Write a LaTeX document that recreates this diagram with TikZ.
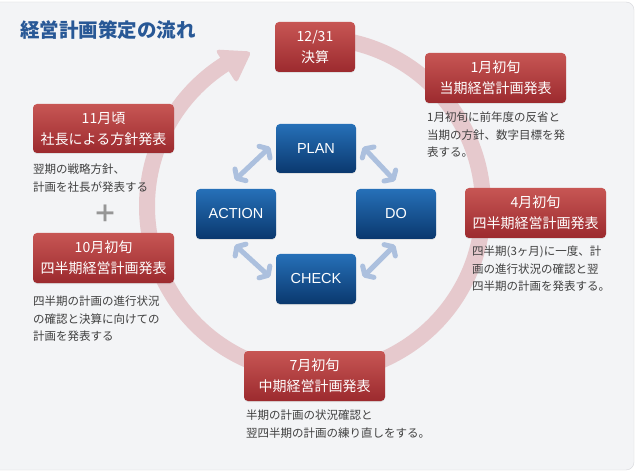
\documentclass[tikz,border=0pt]{standalone}
\usepackage{fontspec}
\newfontfamily\cjk{Noto Sans CJK JP}
\newfontfamily\lat{Liberation Sans}
\usetikzlibrary{arrows.meta,shadows}
\definecolor{rtop}{RGB}{199,86,84}
\definecolor{rbot}{RGB}{156,42,46}
\definecolor{btop}{RGB}{38,112,184}
\definecolor{bbot}{RGB}{10,56,110}
\definecolor{ringcol}{RGB}{230,201,205}
\definecolor{arrcol}{RGB}{172,192,222}
\definecolor{desccol}{RGB}{64,64,64}
\definecolor{titlecol}{RGB}{40,88,150}
\definecolor{panelcol}{RGB}{243,244,246}
\definecolor{panelline}{RGB}{214,215,219}
\definecolor{pluscol}{RGB}{150,150,150}
\begin{document}
\begin{tikzpicture}[x=1pt,y=-1pt,
  redbox/.style={rounded corners=4pt, minimum width=141pt, minimum height=50pt, inner sep=0pt,
    top color=rtop, bottom color=rbot, text=white, align=center,
    font=\cjk\fontsize{14}{21}\selectfont,
    drop shadow={opacity=0.18, shadow xshift=0pt, shadow yshift=-1pt}},
  bluebox/.style={rounded corners=4pt, minimum width=80pt, minimum height=50pt, inner sep=0pt,
    top color=btop, bottom color=bbot, text=white, align=center,
    font=\lat\fontsize{14.5}{17}\selectfont,
    drop shadow={opacity=0.18, shadow xshift=0pt, shadow yshift=-1pt}},
  desc/.style={anchor=north west, inner sep=0pt, align=left, text=desccol,
    font=\cjk\fontsize{11.5}{17.5}\selectfont},
  barrow/.style={draw=arrcol, line width=5pt,
    arrows={Straight Barb[length=5pt,width=16pt,line width=5pt,round]-Straight Barb[length=5pt,width=16pt,line width=5pt,round]}}
]
\useasboundingbox (0,0) rectangle (640,473);
\fill[white] (0,0) rectangle (640,473);
\filldraw[fill=panelcol, draw=panelline, rounded corners=8pt] (-10,2) rectangle (634,470);

% ring with arrow
\draw[ringcol, line width=16pt] (315,206) ++(-85:168) arc[start angle=-85, end angle=238, radius=168];
\fill[ringcol, rounded corners=4pt] (215,49.5) -- (251.5,51.5) -- (236.5,83.5) -- cycle;

% title
\node[anchor=west, inner sep=0pt, text=titlecol, font=\cjk\bfseries\fontsize{19.5}{20}\selectfont] (title) at (20,30) {経営計画策定の流れ};

% red boxes
\node[redbox, minimum width=80pt] (dec) at (315,47) {12/31\\決算};
\node[redbox] (jan) at (495.5,78) {1月初旬\\当期経営計画発表};
\node[redbox, minimum height=49pt] (nov) at (103.5,128.5) {11月頃\\社長による方針発表};
\node[redbox] (oct) at (103.5,258) {10月初旬\\四半期経営計画発表};
\node[redbox] (apr) at (535.5,213) {4月初旬\\四半期経営計画発表};
\node[redbox] (jul) at (314.5,376) {7月初旬\\中期経営計画発表};

% descriptions
\node[desc] (jand) at (427,112) {1月初旬に前年度の反省と\\当期の方針、数字目標を発\\表する。};
\node[desc] (novd) at (33,164) {翌期の戦略方針、\\計画を社長が発表する};
\node[desc] (octd) at (33,296) {四半期の計画の進行状況\\の確認と決算に向けての\\計画を発表する};
\node[desc] (aprd) at (472,246) {四半期(3ヶ月)に一度、計\\画の進行状況の確認と翌\\四半期の計画を発表する。};
\node[desc] (juld) at (246,410) {半期の計画の状況確認と\\翌四半期の計画の練り直しをする。};

% plus
\node[inner sep=0pt, text=pluscol, font=\cjk\bfseries\fontsize{24}{24}\selectfont] (plus) at (105.5,213.5) {＋};

% PDCA boxes
\node[bluebox, minimum height=49pt] (plan) at (316,148.5) {PLAN};
\node[bluebox] (action) at (236,214) {ACTION};
\node[bluebox] (do) at (396,214) {DO};
\node[bluebox] (check) at (316,279) {CHECK};

% arrows
\coordinate (ap1) at (235,180); \coordinate (ap2) at (270,147);
\coordinate (pd1) at (363,147); \coordinate (pd2) at (395,181);
\coordinate (ac1) at (235,245); \coordinate (ac2) at (270,277);
\coordinate (cd1) at (363,277); \coordinate (cd2) at (395,245);
\draw[barrow] (ap1) -- (ap2);
\draw[barrow] (pd1) -- (pd2);
\draw[barrow] (ac1) -- (ac2);
\draw[barrow] (cd1) -- (cd2);
\end{tikzpicture}
\end{document}
